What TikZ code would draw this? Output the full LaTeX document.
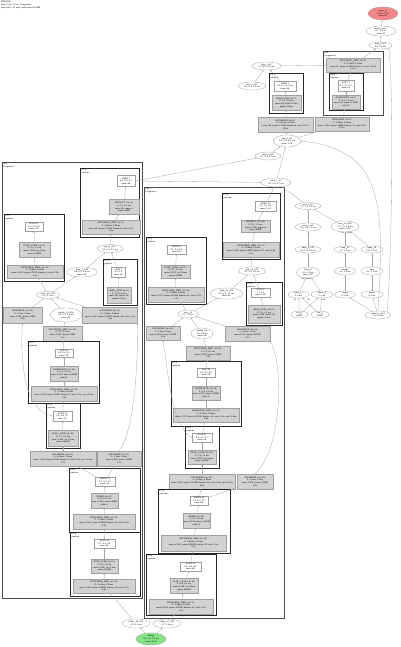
\documentclass[tikz,border=0pt]{standalone}
\usepackage{tikz}
\usetikzlibrary{shapes.geometric,arrows.meta}
\definecolor{qred}{HTML}{F2868A}
\definecolor{qgreen}{HTML}{85E485}
\tikzset{
  profile/.style={x=1pt,y=-1pt,font=\sffamily\fontsize{2.2}{2.7}\selectfont},
  opbox/.style={draw=gray!75,fill=gray!35,line width=0.3pt,inner sep=0.3pt,align=center},
  headbox/.style={draw=gray!75,fill=white,line width=0.3pt,inner sep=0.3pt,align=center},
  stat/.style={ellipse,draw=gray!75,fill=white,line width=0.3pt,inner sep=0pt,align=center},
  frag/.style={draw=black!70,line width=0.75pt},
  pipe/.style={draw=black!85,line width=0.6pt},
  flab/.style={anchor=north west,inner sep=0.4pt,align=left},
  flow/.style={draw=gray!70,line width=0.3pt,-{Stealth[length=1.6pt,width=1.3pt]}},
  elab/.style={inner sep=0pt,font=\sffamily\fontsize{1.8}{2.2}\selectfont},
  wh/.style 2 args={minimum width=#1pt,minimum height=#2pt}
}
\begin{document}
\begin{tikzpicture}[profile]
\useasboundingbox (0,0) rectangle (400,647);
\node[flab] (hdr) at (0.5,0.5) {PROFILE\\ query 7c3e: 12.4s, 3 fragments\\ plan 0x4f2, 41 rows, peak mem 96.3MB};

\node[stat,wh={30}{13},fill=qred] (q0) at (383,13.5) {query\_1\\ 0.81s, 0.77s\\ rows=41};
\node[stat,wh={30}{10}] (x0) at (381,31) {result\_sink 1\\ 0.1, 0.1 ms\\ rows=41};
\node[stat,wh={23}{7}] (s0) at (380.5,45.5) {exch\_0 \#1\\ 0.0, 0.1 ms};

\draw[frag] (323,51) rectangle (383,115);
\node[flab] (fP) at (324,51.5) {F00\\ Fragment 0};
\node[opbox,wh={54}{14}] (p1) at (353,65) {EXCHANGE\_SINK (id=0)\\ 0: 0.21ms, 0.18ms\\ rows=41, bytes=3.2KB, blocks=4, wait=11.9s\\ 12.4s};
\draw[pipe] (329,73) rectangle (363,110);
\node[flab] (pQ) at (330,73.5) {P0-0\\ pipeline};
\node[headbox,wh={16}{11}] (q1) at (346,85.5) {SORT 3\\ 0.1, 0.1, 0.1\\ rows=41};
\node[opbox,wh={28}{14}] (q2) at (346,102) {AGGREGATE (id=3)\\ 0: 0.5, 0.4 ms\\ rows=41, mem=1.2MB\\ spill=0};

\draw[pipe] (269,73) rectangle (303,113);
\node[flab] (pR) at (270,73.5) {P0-1\\ pipeline};
\node[headbox,wh={22}{10}] (r1) at (285,86) {HASH 2\\ 0.2, 0.2, 0.3 ms\\ rows=96};
\node[opbox,wh={29}{15}] (r2) at (286.5,102.5) {HASH\_JOIN (id=2)\\ 0: 1.1, 0.9 ms\\ rows=96, build=0.3ms\\ probe=0.6ms};

\node[stat,wh={29}{8}] (j0) at (266.5,66) {join\_3 \#2\\ 0.1, 0.2, 0.2 ms};
\node[stat,wh={28}{8}] (sc0) at (252,86) {scan\_9 \#3\\ 0.4, 0.4, 0.5 ms};
\node[opbox,wh={55}{15}] (g0L) at (285.5,124.5) {EXCHANGE (id=4)\\ 0: 0.31ms, 0.27ms\\ rows=96, bytes=7.1KB, blocks=6, wait=10.2s\\ 10.8s};
\node[opbox,wh={54}{14}] (g0R) at (342,124) {EXCHANGE (id=5)\\ 0: 0.44ms, 0.36ms\\ rows=1,208, bytes=88KB, blocks=12, wait=9.7s\\ 10.1s};
\node[stat,wh={28}{12}] (e1) at (287,141) {sink\_4 \#5\\ 0.1, 0.1, 0.2 ms\\ rows=1.3K};
\node[stat,wh={26}{8}] (e2) at (268,156) {send\_6 \#6\\ 0.2, 0.3, 0.3 ms};
\node[stat,wh={30}{9}] (e3) at (276,182.5) {send\_7 \#7\\ 0.5, 0.6, 0.7 ms};

\node[stat,wh={26}{7}] (a1) at (308,206) {scan\_8 \#8\\ 1.2, 1.3, 1.4 ms};
\node[stat,wh={26}{8}] (a2) at (308,227) {read\_8 \#9\\ 0.9, 1.0, 1.1 ms};
\node[stat,wh={28}{11}] (b1) at (345,226.5) {scan\_10 \#10\\ 2.1, 2.2, 2.6 ms\\ rows=3.1K};
\node[stat,wh={26}{7}] (a3) at (308,249.5) {open\_8 \#11\\ 0.4, 0.4, 0.5 ms};
\node[stat,wh={22}{7}] (b2) at (345,249.5) {read\_10\\ 1.3, 1.4 ms};
\node[stat,wh={22}{7}] (c2) at (372,249.5) {open\_10\\ 0.6, 0.7 ms};
\node[stat,wh={23}{11}] (a4) at (308,272.5) {fetch\_8\\ 0.2, 0.3 ms\\ rows=512};
\node[stat,wh={21}{8}] (b3) at (345,271) {decode\\ 0.8, 0.9 ms};
\node[stat,wh={22}{8}] (c3) at (372,271) {filter\\ 0.3, 0.3 ms};
\node[stat,wh={21}{7}] (a5) at (298.5,294.5) {block\_a\\ 0.1 ms};
\node[stat,wh={22}{7}] (a6) at (322,294.5) {block\_b\\ 0.1 ms};
\node[stat,wh={21}{7}] (b4) at (345,294.5) {merge\\ 0.4 ms};
\node[stat,wh={22}{7}] (c4) at (372,294.5) {prune\\ 0.2 ms};
\node[stat,wh={17}{7}] (a7) at (299.5,314.5) {file\_0\\ 64KB};
\node[stat,wh={18}{7}] (a8) at (320,314.5) {file\_1\\ 48KB};
\node[stat,wh={26}{8}] (c5) at (378,315) {tablet\_2 \#12\\ 3.4, 3.6 ms};
\node[elab] (l1) at (346,233.5) {3.1K / 212KB};
\node[elab] (l2) at (306,279.5) {512 / 36KB};
\node[elab] (l3) at (295,299.8) {256};
\node[elab] (l4) at (308.5,299.8) {256};
\node[elab] (l5) at (324,299.8) {256};

% fragment 1
\draw[frag] (2,162) rectangle (142,598);
\node[flab] (f1) at (3,162.5) {F01\\ Fragment 1};
\draw[pipe] (80,168) rectangle (139,237);
\node[flab] (pA) at (81,168.5) {P1-0\\ pipeline};
\node[headbox,wh={18}{11}] (A1) at (126,181) {HEAD 5\\ 0.2, 0.2, 0.3\\ rows=96};
\node[opbox,wh={30}{15}] (A2) at (124,207) {PROJECT (id=6)\\ 0: 0.1, 0.1 ms\\ rows=96, exprs=4\\ mem=64KB};
\node[opbox,wh={58}{14}] (A3) at (111,227) {EXCHANGE\_SINK (id=7)\\ 0: 0.62ms, 0.55ms\\ rows=96, bytes=7.1KB, blocks=6, wait=4.3s\\ 5.0s};
\node[stat,wh={26}{8}] (j1) at (110,248.5) {join\_7 \#13\\ 0.2, 0.3, 0.3 ms};
\draw[pipe] (4,214) rectangle (64,281);
\node[flab] (pB) at (5,214.5) {P1-1\\ pipeline};
\node[headbox,wh={18}{9}] (B1) at (34,226.5) {SCAN 11\\ 0.3, 0.4, 0.4\\ rows=1K};
\node[opbox,wh={31}{15}] (B2) at (34.5,249.5) {OLAP\_SCAN (id=11)\\ 0: 2.3, 2.1 ms\\ rows=1,024, io=1.8ms\\ mem=312KB};
\node[opbox,wh={56}{13}] (B3) at (35,271.5) {EXCHANGE\_SINK (id=12)\\ 0: 0.48ms, 0.41ms\\ rows=1,024, bytes=71KB, blocks=8, wait=3.9s\\ 4.4s};
\node[stat,wh={30}{10}] (j2) at (82,272) {hash\_7 \#14\\ 0.6, 0.7, 0.9 ms\\ rows=1K};
\draw[pipe] (103,259) rectangle (137,305);
\node[flab] (pC) at (104,259.5) {P1-2\\ pipeline};
\node[headbox,wh={14}{10}] (C1) at (118.5,272) {JOIN 7\\ 0.9, 1.0\\ rows=96};
\node[opbox,wh={24}{16}] (C2) at (119,295) {HASH\_JOIN (id=7)\\ 0: 1.9, 1.6 ms\\ rows=96, build=1K\\ probe=0.7ms};
\node[stat,wh={23}{7}] (j3) at (48,295) {recv\_12 \#15\\ 0.1, 0.1 ms};
\node[opbox,wh={39}{16}] (g1L) at (22.5,315) {EXCHANGE (id=12)\\ 0: 0.2ms, 0.2ms\\ rows=1,024, bytes=71KB\\ 0.9s};
\node[stat,wh={32}{14}] (j4) at (66,315) {shuffle\_12 \#16\\ 0.3, 0.3, 0.4 ms\\ rows=1K};
\node[opbox,wh={55}{16}] (g1R) at (110,315) {EXCHANGE (id=13)\\ 0: 0.35ms, 0.29ms\\ rows=2,048, bytes=142KB, blocks=16, wait=2.1s\\ 2.6s};
\node[opbox,wh={39}{15}] (gX) at (62.5,333.5) {EXCHANGE\_SINK (id=14)\\ 0: 0.2, 0.2 ms\\ rows=1,024, bytes=71KB\\ 1.2s};
\draw[pipe] (28,341) rectangle (99,403);
\node[flab] (pD) at (29,341.5) {P1-3\\ pipeline};
\node[headbox,wh={18}{8}] (D1) at (64,353) {AGG 14\\ 0.4, 0.5, 0.5\\ rows=1K};
\node[opbox,wh={28}{15}] (D2) at (64,373.5) {AGGREGATE (id=14)\\ 0: 0.8, 0.7 ms\\ rows=1,024, mem=220KB\\ spill=0};
\node[opbox,wh={66}{15}] (D3) at (64,393.5) {EXCHANGE\_SINK (id=15)\\ 0: 0.52ms, 0.47ms\\ rows=1,024, bytes=71KB, blocks=8, wait=1.4s, rpc=0.3ms\\ 1.9s};
\draw[pipe] (46,403) rectangle (80,448);
\node[flab] (pE) at (47,403.5) {P1-4\\ pipeline};
\node[headbox,wh={19}{10}] (E1) at (62.5,416) {SCAN 15\\ 0.6, 0.6, 0.7\\ rows=1K};
\node[opbox,wh={30}{16}] (E2) at (63,438) {OLAP\_SCAN (id=15)\\ 0: 3.1, 2.8 ms\\ rows=1,024, io=2.2ms\\ mem=298KB};
\node[opbox,wh={66}{15}] (g2L) at (63,458.5) {EXCHANGE (id=16)\\ 0: 0.41ms, 0.38ms\\ rows=1,024, bytes=71KB, blocks=8, wait=0.8s, rpc=0.2ms\\ 1.1s};
\node[opbox,wh={44}{15}] (g2R) at (119,458.5) {EXCHANGE (id=17)\\ 0: 0.3ms, 0.3ms\\ rows=2,048, bytes=142KB\\ 0.7s};
\draw[pipe] (69,468) rectangle (140,532);
\node[flab] (pF) at (70,468.5) {P1-5\\ pipeline};
\node[headbox,wh={20}{9}] (F1) at (105,481.5) {UNION 17\\ 0.2, 0.2, 0.3\\ rows=2K};
\node[opbox,wh={27}{15}] (F2) at (104.5,500.5) {UNION (id=17)\\ 0: 0.4, 0.3 ms\\ rows=2,048, mem=96KB\\ child=2};
\node[opbox,wh={62}{15}] (F3) at (104,521.5) {EXCHANGE\_SINK (id=18)\\ 0: 0.57ms, 0.49ms\\ rows=2,048, bytes=142KB, blocks=16, wait=0.5s\\ 0.9s};
\draw[pipe] (70,532) rectangle (140,596);
\node[flab] (pG) at (71,532.5) {P1-6\\ pipeline};
\node[headbox,wh={21}{9}] (G1) at (104.5,543.5) {SCAN 18\\ 0.7, 0.8, 0.8\\ rows=2K};
\node[opbox,wh={27}{14}] (G2) at (104.5,566) {OLAP\_SCAN (id=18)\\ 0: 4.2, 3.9 ms\\ rows=2,048, io=3.1ms\\ mem=401KB};
\node[opbox,wh={62}{14}] (G3) at (104,586) {EXCHANGE\_SINK (id=19)\\ 0: 0.61ms, 0.54ms\\ rows=2,048, bytes=142KB, blocks=16, wait=0.3s\\ 0.6s};
\node[stat,wh={28}{9}] (z1) at (136,623.5) {tablet\_19 \#17\\ 4.0, 4.1 ms};
\node[stat,wh={28}{9}] (z2) at (167,623.5) {tablet\_27 \#18\\ 3.7, 3.8 ms};
\node[stat,wh={30}{12},fill=qgreen] (gr) at (151,639) {storage\\ 2.4, 2.6, 2.9 ms\\ rows=6.1K};

% fragment 2
\draw[frag] (144,187) rectangle (284,618);
\node[flab] (f2) at (145,187.5) {F02\\ Fragment 2};
\draw[pipe] (222,193) rectangle (280,259);
\node[flab] (pH) at (223,193.5) {P2-0\\ pipeline};
\node[headbox,wh={21}{10}] (H1) at (265.5,206) {HEAD 20\\ 0.3, 0.3, 0.4\\ rows=1.2K};
\node[opbox,wh={29}{12}] (H2) at (255.5,226) {PROJECT (id=20)\\ 0: 0.1, 0.1 ms\\ rows=1,208, exprs=6\\ mem=88KB};
\node[opbox,wh={56}{15}] (H3) at (251,249.5) {EXCHANGE\_SINK (id=21)\\ 0: 0.58ms, 0.51ms\\ rows=1,208, bytes=88KB, blocks=12, wait=3.6s\\ 4.1s};
\node[stat,wh={27}{8}] (j5) at (252,271) {join\_22 \#19\\ 0.3, 0.3, 0.4 ms};
\draw[pipe] (146,237) rectangle (206,304);
\node[flab] (pI) at (147,237.5) {P2-1\\ pipeline};
\node[headbox,wh={19}{9}] (I1) at (176.5,249.5) {SCAN 23\\ 0.4, 0.4, 0.5\\ rows=3K};
\node[opbox,wh={29}{13}] (I2) at (175.5,271.5) {OLAP\_SCAN (id=23)\\ 0: 2.8, 2.5 ms\\ rows=3,072, io=2.0ms\\ mem=356KB};
\node[opbox,wh={56}{15}] (I3) at (176,294.5) {EXCHANGE\_SINK (id=24)\\ 0: 0.50ms, 0.44ms\\ rows=3,072, bytes=212KB, blocks=24, wait=3.2s\\ 3.7s};
\node[stat,wh={33}{11}] (j7) at (226.5,293.5) {hash\_22 \#20\\ 0.8, 0.9, 1.1 ms\\ rows=3K};
\draw[pipe] (246,282) rectangle (282,325);
\node[flab] (pJ) at (247,282.5) {P2-2\\ pipeline};
\node[headbox,wh={19}{9}] (J1) at (260.5,292.5) {JOIN 22\\ 1.2, 1.3\\ rows=1.2K};
\node[opbox,wh={32}{18}] (J2) at (264,314) {HASH\_JOIN (id=22)\\ 0: 2.4, 2.1 ms\\ rows=1,208, build=3K\\ probe=0.9ms};
\node[stat,wh={20}{8}] (j6) at (188,314) {recv\_24\\ 0.1, 0.1 ms};
\node[opbox,wh={34}{14}] (g3L) at (163,333) {EXCHANGE (id=24)\\ 0: 0.2ms, 0.2ms\\ rows=3,072, bytes=212KB\\ 0.8s};
\node[stat,wh={22}{11}] (j8) at (202,333.5) {shuffle\_24\\ 0.3, 0.4 ms\\ rows=3K};
\node[opbox,wh={45}{15}] (g3R) at (247.5,333.5) {EXCHANGE (id=25)\\ 0: 0.3ms, 0.3ms\\ rows=3,072, bytes=212KB\\ 0.7s};
\node[opbox,wh={44}{14}] (gY) at (208,353) {EXCHANGE\_SINK (id=26)\\ 0: 0.2, 0.2 ms\\ rows=3,072, bytes=212KB\\ 1.0s};
\draw[pipe] (171,361) rectangle (241,426);
\node[flab] (pK) at (172,361.5) {P2-3\\ pipeline};
\node[headbox,wh={18}{9}] (K1) at (206,372.5) {AGG 26\\ 0.5, 0.5, 0.6\\ rows=3K};
\node[opbox,wh={28}{14}] (K2) at (206,393) {AGGREGATE (id=26)\\ 0: 0.9, 0.8 ms\\ rows=3,072, mem=410KB\\ spill=0};
\node[opbox,wh={66}{14}] (K3) at (206,415) {EXCHANGE\_SINK (id=27)\\ 0: 0.55ms, 0.49ms\\ rows=3,072, bytes=212KB, blocks=24, wait=1.2s, rpc=0.4ms\\ 1.6s};
\draw[pipe] (185,426) rectangle (219,468);
\node[flab] (pL) at (186,426.5) {P2-4\\ pipeline};
\node[headbox,wh={20}{9}] (L1) at (202,437.5) {SCAN 27\\ 0.6, 0.7, 0.7\\ rows=3K};
\node[opbox,wh={28}{14}] (L2) at (202,457) {OLAP\_SCAN (id=27)\\ 0: 3.5, 3.2 ms\\ rows=3,072, io=2.6ms\\ mem=388KB};
\node[opbox,wh={66}{15}] (g4L) at (202,481.5) {EXCHANGE (id=28)\\ 0: 0.43ms, 0.39ms\\ rows=3,072, bytes=212KB, blocks=24, wait=0.6s, rpc=0.2ms\\ 0.9s};
\node[opbox,wh={36}{15}] (g4R) at (255,481.5) {EXCHANGE (id=29)\\ 0: 0.3ms, 0.3ms\\ rows=3,072, bytes=212KB\\ 0.6s};
\draw[pipe] (158,489) rectangle (230,553);
\node[flab] (pM) at (159,489.5) {P2-5\\ pipeline};
\node[headbox,wh={18}{9}] (M1) at (199,500.5) {UNION 29\\ 0.2, 0.3, 0.3\\ rows=6K};
\node[opbox,wh={27}{15}] (M2) at (196.5,520.5) {UNION (id=29)\\ 0: 0.5, 0.4 ms\\ rows=6,144, mem=128KB\\ child=2};
\node[opbox,wh={65}{16}] (M3) at (193.5,543) {EXCHANGE\_SINK (id=30)\\ 0: 0.63ms, 0.57ms\\ rows=6,144, bytes=424KB, blocks=48, wait=0.4s\\ 0.8s};
\draw[pipe] (146,554) rectangle (216,615);
\node[flab] (pN) at (147,554.5) {P2-6\\ pipeline};
\node[headbox,wh={21}{9}] (N1) at (190.5,566.5) {SCAN 30\\ 0.8, 0.8, 0.9\\ rows=6K};
\node[opbox,wh={28}{15}] (N2) at (184,585.5) {OLAP\_SCAN (id=30)\\ 0: 4.6, 4.3 ms\\ rows=6,144, io=3.4ms\\ mem=455KB};
\node[opbox,wh={64}{15}] (N3) at (181,606.5) {EXCHANGE\_SINK (id=31)\\ 0: 0.66ms, 0.58ms\\ rows=6,144, bytes=424KB, blocks=48, wait=0.2s\\ 0.5s};

% connectors
\draw[flow] (x0) -- (q0);
\draw[flow] (s0) -- (x0);
\draw[flow] (p1) -- (s0);
\draw[flow] (q1) -- (p1);
\draw[flow] (q2) -- (q1);
\draw[flow] (g0R) -- (q2);
\draw[flow] (r1) -- (j0);
\draw[flow] (r2) -- (r1);
\draw[flow] (g0L) -- (r2);
\draw[flow] (sc0) -- (j0);
\draw[flow] (j0) -- (p1);
\draw[flow] (e1) -- (g0L);
\draw[flow] (e1) -- (g0R);
\draw[flow] (e2) -- (e1);
\draw[flow] (e3) -- (e1);
\draw[flow] (A1.east) -- (e2);
\draw[flow] (A1.east) -- (e3);
\draw[flow] (H1) -- (e3);
\draw[flow] (a1) -- (e3);
\draw[flow] (b1) -- (a1);
\draw[flow] (a2) -- (a1);
\draw[flow] (a3) -- (a2);
\draw[flow] (a4) -- (a3);
\draw[flow] (a5) -- (a4);
\draw[flow] (a6) -- (a4);
\draw[flow] (a7) -- (a5);
\draw[flow] (a8) -- (a5);
\draw[flow] (a7) -- (a6);
\draw[flow] (a8) -- (a6);
\draw[flow] (b2) -- (b1);
\draw[flow] (c2) -- (b1);
\draw[flow] (b3) -- (b2);
\draw[flow] (c3) -- (c2);
\draw[flow] (b4) -- (b3);
\draw[flow] (c4) -- (c3);
\draw[flow] (c5) -- (b4);
\draw[flow] (c5) -- (c4);
\draw[flow] (c5.north east) .. controls (393,230) and (393,80) .. (s0.south east);
\draw[flow] (c5.north) .. controls (385,200) and (382,150) .. (e1.east);

\draw[flow] (A2) -- (A1);
\draw[flow] (A3) -- (A2);
\draw[flow] (j1) -- (A3);
\draw[flow] (C1) -- (j1);
\draw[flow] (C2) -- (C1);
\draw[flow] (j2) -- (j1);
\draw[flow] (j3) -- (j2);
\draw[flow] (j3) -- (B3);
\draw[flow] (B3) -- (B2);
\draw[flow] (B2) -- (B1);
\draw[flow] (g1L) -- (j3);
\draw[flow] (j4) -- (j3);
\draw[flow] (g1R) -- (j3);
\draw[flow] (gX) -- (j4);
\draw[flow] (D1) -- (gX);
\draw[flow] (D2) -- (D1);
\draw[flow] (D3) -- (D2);
\draw[flow] (E1) -- (D3);
\draw[flow] (E2) -- (E1);
\draw[flow] (E1.west) .. controls (24,412) and (20,360) .. (g1L.south);
\draw[flow] (g2L) -- (E2);
\draw[flow] (F1) -- (g2L);
\draw[flow] (F1) -- (g2R);
\draw[flow] (g2R.north) .. controls (136,430) and (138,350) .. (g1R.south east);
\draw[flow] (F2) -- (F1);
\draw[flow] (F3) -- (F2);
\draw[flow] (G1) -- (F3);
\draw[flow] (G2) -- (G1);
\draw[flow] (G3) -- (G2);
\draw[flow] (z1) -- (G3);
\draw[flow] (gr) -- (z1);
\draw[flow] (gr) -- (z2);
\draw[flow] (z2) -- (N3);

\draw[flow] (H2) -- (H1);
\draw[flow] (H3) -- (H2);
\draw[flow] (j5) -- (H3);
\draw[flow] (J1) -- (j5);
\draw[flow] (J2) -- (J1);
\draw[flow] (j7) -- (j5);
\draw[flow] (j6) -- (j7);
\draw[flow] (j6) -- (I3);
\draw[flow] (I3) -- (I2);
\draw[flow] (I2) -- (I1);
\draw[flow] (g3L) -- (j6);
\draw[flow] (j8) -- (j6);
\draw[flow] (g3R) -- (j6);
\draw[flow] (gY) -- (j8);
\draw[flow] (K1) -- (gY);
\draw[flow] (K2) -- (K1);
\draw[flow] (K3) -- (K2);
\draw[flow] (L1) -- (K3);
\draw[flow] (L2) -- (L1);
\draw[flow] (L1.west) .. controls (172,428) and (168,372) .. (g3L.south);
\draw[flow] (g4L) -- (L2);
\draw[flow] (M1) -- (g4L);
\draw[flow] (M1) -- (g4R);
\draw[flow] (g4R.north) .. controls (282,450) and (284,365) .. (g3R.south east);
\draw[flow] (M2) -- (M1);
\draw[flow] (M3) -- (M2);
\draw[flow] (N1) -- (M3);
\draw[flow] (N2) -- (N1);
\draw[flow] (N3) -- (N2);
\end{tikzpicture}
\end{document}
